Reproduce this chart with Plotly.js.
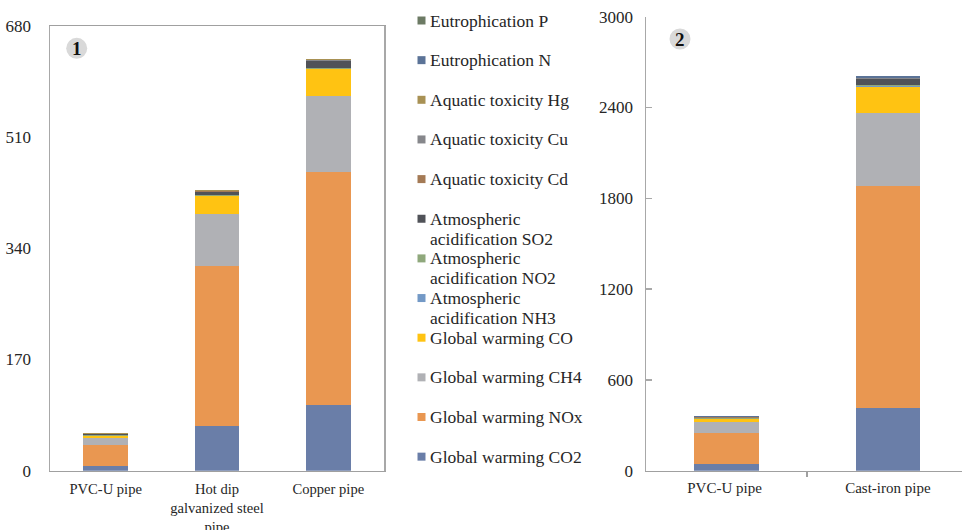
<!DOCTYPE html>
<html>
<head>
<meta charset="utf-8">
<script src="https://cdn.plot.ly/plotly-3.0.1.min.js"></script>
<style>html,body{margin:0;padding:0;background:#fff;}#chart{width:962px;height:530px;}</style>
</head>
<body>
<div id="chart"></div>
<script>
// ---- Data ----
const pipes1 = ['PVC-U pipe', 'Hot dip<br>galvanized steel<br>pipe', 'Copper pipe'];
const pipes2 = ['PVC-U pipe ', 'Cast-iron pipe'];

const seriesNames = [
  'Global warming CO2', 'Global warming NOx', 'Global warming CH4', 'Global warming CO',
  'Atmospheric<br>acidification NH3', 'Atmospheric<br>acidification NO2', 'Atmospheric<br>acidification SO2',
  'Aquatic toxicity Cd', 'Aquatic toxicity Cu', 'Aquatic toxicity Hg',
  'Eutrophication N', 'Eutrophication P'
];
const seriesColors = [
  '#6a7ea8', '#e99751', '#b0b1b5', '#ffc312',
  '#7399c6', '#8fa87c', '#505258',
  '#a47a55', '#86878b', '#a89154',
  '#5b7397', '#6c7a64'
];

// chart 1 values (PVC-U, Hot dip galvanized steel, Copper)
const co2_1 = [7.7, 68.8, 100.9];
const nox_1 = [31.6, 244.7, 355.8];
const ch4_1 = [11.2, 79.5, 116.7];
const co_1  = [3.0, 27.0, 40.8];
const nh3_1 = [0.2, 0.5, 0.6];
const no2_1 = [0.4, 1.0, 1.3];
const so2_1 = [1.6, 5.2, 10.0];
const cd_1  = [0.2, 0.3, 0.4];
const cu_1  = [0.4, 0.6, 0.8];
const hg_1  = [0.8, 2.0, 2.0];
const n_1   = [0.2, 0.2, 0.3];
const p_1   = [0.1, 0.1, 0.1];

// chart 2 values (PVC-U, Cast-iron)
const co2_2 = [44, 412];
const nox_2 = [207, 1468];
const ch4_2 = [69, 486];
const co_2  = [20, 170];
const nh3_2 = [2, 4];
const no2_2 = [3, 12];
const so2_2 = [6, 37];
const cd_2  = [1, 2];
const cu_2  = [2, 3];
const hg_2  = [3, 3];
const n_2   = [2, 8];
const p_2   = [1, 2];

const values1 = [co2_1, nox_1, ch4_1, co_1, nh3_1, no2_1, so2_1, cd_1, cu_1, hg_1, n_1, p_1];
const values2 = [co2_2, nox_2, ch4_2, co_2, nh3_2, no2_2, so2_2, cd_2, cu_2, hg_2, n_2, p_2];

// ---- Build ----
const W = 962, H = 530;
const px = v => v / W;
const py = v => 1 - v / H;
const FONT = 'Liberation Serif, Times New Roman, serif';

const traces = [];
seriesNames.forEach((name, i) => {
  traces.push({
    type: 'bar', name: name, x: pipes1, y: values1[i], xaxis: 'x', yaxis: 'y',
    width: 0.4, marker: {color: seriesColors[i], line: {width: 0}}, showlegend: false
  });
  traces.push({
    type: 'bar', name: name, x: pipes2, y: values2[i], xaxis: 'x2', yaxis: 'y2',
    width: 0.4, marker: {color: seriesColors[i], line: {width: 0}}, showlegend: false
  });
});

// legend drawn as annotations + squares, generated from the series arrays
const annotations = [];
const shapes = [];
const legTop = 20.5, legStep = 39.65;
for (let k = 0; k < seriesNames.length; k++) {
  const i = seriesNames.length - 1 - k;
  const yc = legTop + legStep * k;
  shapes.push({
    type: 'rect', xref: 'paper', yref: 'paper',
    x0: px(417.5), x1: px(425.5), y0: py(yc + 4), y1: py(yc - 4),
    fillcolor: seriesColors[i], line: {width: 0}
  });
  const lines = seriesNames[i].split('<br>');
  lines.forEach((ln, j) => {
    annotations.push({
      xref: 'paper', yref: 'paper', x: px(428), y: py(yc + j * 19.8),
      xanchor: 'left', yanchor: 'middle', showarrow: false,
      text: ln, font: {family: FONT, size: 17.5, color: '#262626'}
    });
  });
}

// panel markers
[[76.7, 48.3, '1'], [680, 39, '2']].forEach(([cx, cy, t]) => {
  shapes.push({
    type: 'circle', xref: 'paper', yref: 'paper',
    x0: px(cx - 10.5), x1: px(cx + 10.5), y0: py(cy + 10.5), y1: py(cy - 10.5),
    fillcolor: '#d9d9d9', line: {width: 0}
  });
  annotations.push({
    xref: 'paper', yref: 'paper', x: px(cx), y: py(cy + 0.5),
    xanchor: 'center', yanchor: 'middle', showarrow: false,
    text: '<b>' + t + '</b>', font: {family: FONT, size: 19, color: '#111'}
  });
});

const yDom = [py(470.7), py(26)];
const layout = {
  width: W, height: H,
  margin: {l: 0, r: 0, t: 0, b: 0},
  paper_bgcolor: '#fff', plot_bgcolor: '#fff',
  barmode: 'stack', bargap: 0.6,
  showlegend: false,
  font: {family: FONT, color: '#262626'},
  xaxis: {
    domain: [px(50), px(384)], range: [-0.5, 2.5], anchor: 'y',
    showline: true, linecolor: '#a0a0a0', linewidth: 1.5, mirror: true,
    ticks: '', showgrid: false, zeroline: false, fixedrange: true,
    tickfont: {family: FONT, size: 14.6, color: '#262626'}, ticklabelstandoff: 4
  },
  yaxis: {
    domain: yDom, range: [0, 680], tickvals: [0, 170, 340, 510, 680], anchor: 'x',
    showline: true, linecolor: '#a8a8a8', linewidth: 1.5, mirror: true,
    ticks: '', showgrid: false, zeroline: false,
    tickfont: {family: FONT, size: 17, color: '#262626'}, ticklabelstandoff: 14
  },
  xaxis2: {
    domain: [px(646), 1], range: [-0.498, 1.459], anchor: 'y2',
    showline: true, linecolor: '#a0a0a0', linewidth: 1.5,
    ticks: 'outside', tickson: 'boundaries', ticklen: 5, tickcolor: '#a0a0a0', tickwidth: 1.5,
    showgrid: false, zeroline: false,
    tickfont: {family: FONT, size: 15, color: '#262626'}, ticklabelstandoff: 3
  },
  yaxis2: {
    domain: yDom.slice(0, 1).concat([py(16.7)]), range: [0, 3000], tickvals: [0, 600, 1200, 1800, 2400, 3000], anchor: 'x2',
    showline: true, linecolor: '#a8a8a8', linewidth: 1.5,
    ticks: 'inside', ticklen: 6, tickcolor: '#a8a8a8', tickwidth: 1.5,
    showgrid: false, zeroline: false,
    tickfont: {family: FONT, size: 17, color: '#262626'}, ticklabelstandoff: 8
  },
  shapes: shapes,
  annotations: annotations
};

Plotly.newPlot('chart', traces, layout, {displayModeBar: false, staticPlot: true});
</script>
</body>
</html>
